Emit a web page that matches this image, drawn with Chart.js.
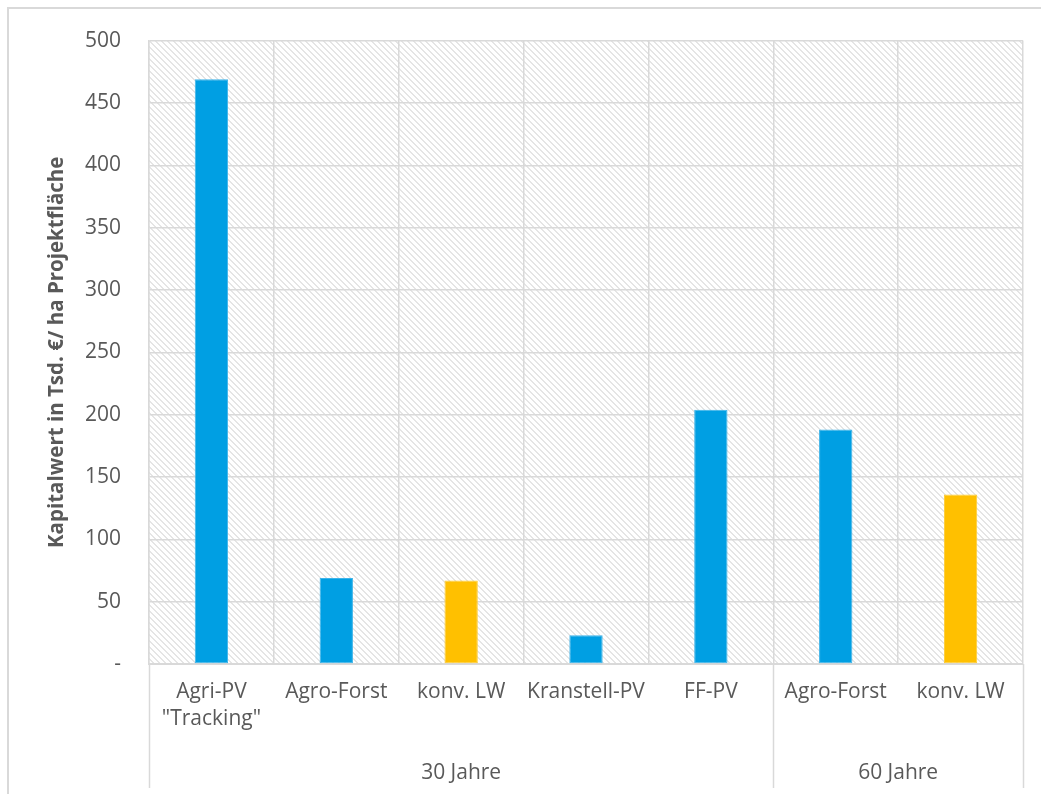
<!DOCTYPE html>
<html lang="de">
<head>
<meta charset="utf-8">
<title>Kapitalwert je Hektar Projektfläche</title>
<script src="https://cdn.jsdelivr.net/npm/chart.js@4.4.1/dist/chart.umd.min.js"></script>
<style>
  html, body { margin: 0; padding: 0; background: #ffffff; }
  #wrap { position: relative; width: 1041px; height: 794px; }
</style>
</head>
<body>
<div id="wrap"><canvas id="chart" width="1041" height="794"></canvas></div>
<script>
// Kategorien (zweizeilige Beschriftung als Array)
const categories = [
  ['Agri-PV', '"Tracking"'],
  'Agro-Forst',
  'konv. LW',
  'Kranstell-PV',
  'FF-PV',
  'Agro-Forst',
  'konv. LW'
];
// Kapitalwert in Tsd. € je ha Projektfläche
const values = [469, 69, 67, 23, 204, 188, 136];
// Nutzungsart: PV/Forst oder konventionelle Landwirtschaft
const kinds = ['pv', 'pv', 'lw', 'pv', 'pv', 'pv', 'lw'];
// Betrachtungszeiträume und Anzahl der Kategorien je Zeitraum
const groupLabels = ['30 Jahre', '60 Jahre'];
const groupSizes = [5, 2];
// Achsenteilung
const yMin = 0, yMax = 500, yStep = 50;

const kindColors = { pv: '#009FE3', lw: '#FFC000' };
const kindBorders = { pv: '#3CB4EA', lw: '#FFCD33' };
const gridColor = '#D9D9D9';
const textColor = '#595959';
const fontFamily = '"Open Sans", "DejaVu Sans", sans-serif';

// Schraffur der Zeichenfläche
function makeHatch() {
  const n = 6;
  const c = document.createElement('canvas');
  c.width = n; c.height = n;
  const g = c.getContext('2d');
  g.fillStyle = '#ffffff';
  g.fillRect(0, 0, n, n);
  g.fillStyle = '#E5E5E5';
  for (let y = 0; y < n; y++) {
    for (let x = 0; x < n; x++) {
      if (((x - y) % n + n) % n < 2) g.fillRect(x, y, 1, 1);
    }
  }
  return c;
}

const hatchPlugin = {
  id: 'hatch',
  beforeDraw(chart) {
    const { ctx, chartArea: a } = chart;
    ctx.save();
    ctx.fillStyle = '#ffffff';
    ctx.fillRect(0, 0, chart.width, chart.height);
    ctx.fillStyle = ctx.createPattern(makeHatch(), 'repeat');
    ctx.fillRect(a.left, a.top, a.right - a.left, a.bottom - a.top);
    ctx.restore();
  }
};

// Rahmen und Gruppenbeschriftung unter der Kategorienachse
const groupAxisPlugin = {
  id: 'groupAxis',
  afterDraw(chart) {
    const { ctx, chartArea: a } = chart;
    const xs = chart.scales.x;
    ctx.save();
    // äußerer Rahmen
    ctx.strokeStyle = gridColor;
    ctx.lineWidth = 2;
    ctx.beginPath();
    ctx.moveTo(8, chart.height);
    ctx.lineTo(8, 8);
    ctx.lineTo(chart.width, 8);
    ctx.stroke();

    // Trennlinien und Beschriftung der Zeiträume
    const edge = (i) => {
      if (i <= 0) return a.left;
      if (i >= categories.length) return a.right;
      return (xs.getPixelForValue(i - 1) + xs.getPixelForValue(i)) / 2;
    };
    const lineBottom = 788;
    ctx.lineWidth = 1.5;
    let start = 0;
    const bounds = [0];
    groupSizes.forEach(s => { start += s; bounds.push(start); });
    bounds.forEach(b => {
      const x = Math.round(edge(b)) + 0.5;
      ctx.beginPath();
      ctx.moveTo(x, a.bottom);
      ctx.lineTo(x, lineBottom);
      ctx.stroke();
    });
    ctx.fillStyle = textColor;
    ctx.font = '21px ' + fontFamily;
    ctx.textAlign = 'center';
    ctx.textBaseline = 'middle';
    groupLabels.forEach((lab, gi) => {
      const x0 = edge(bounds[gi]);
      const x1 = edge(bounds[gi + 1]);
      ctx.fillText(lab, (x0 + x1) / 2, 773);
    });
    ctx.restore();
  }
};

new Chart(document.getElementById('chart'), {
  type: 'bar',
  data: {
    labels: categories,
    datasets: [{
      data: values,
      backgroundColor: kinds.map(k => kindColors[k]),
      borderColor: kinds.map(k => kindBorders[k]),
      borderWidth: 1,
      borderSkipped: false,
      barPercentage: 0.267,
      categoryPercentage: 1
    }]
  },
  options: {
    responsive: false,
    animation: false,
    devicePixelRatio: 1,
    layout: { padding: { left: 0, top: 38, right: 18, bottom: 0 } },
    plugins: {
      legend: { display: false },
      tooltip: { enabled: false },
      title: { display: false }
    },
    scales: {
      x: {
        type: 'category',
        offset: true,
        afterFit(scale) { scale.height = 130; },
        grid: {
          offset: true,
          color: gridColor,
          lineWidth: 1.5,
          drawTicks: false
        },
        border: { color: gridColor, width: 2 },
        ticks: {
          color: textColor,
          font: { family: fontFamily, size: 21, lineHeight: 1.3 },
          padding: 14,
          maxRotation: 0,
          autoSkip: false
        }
      },
      y: {
        min: yMin,
        max: yMax,
        afterFit(scale) { scale.width = 149; },
        grid: { color: gridColor, lineWidth: 1.5, drawTicks: false },
        border: { color: gridColor, width: 1.5 },
        ticks: {
          stepSize: yStep,
          color: textColor,
          font: { family: fontFamily, size: 21 },
          padding: 28,
          callback: (v) => (v === 0 ? '-' : v)
        },
        title: {
          display: true,
          text: 'Kapitalwert in Tsd. €/ ha Projektfläche',
          color: textColor,
          font: { family: fontFamily, size: 20.5, weight: 'bold' },
          padding: { top: 45, bottom: 0 }
        }
      }
    }
  },
  plugins: [hatchPlugin, groupAxisPlugin]
});
</script>
</body>
</html>
